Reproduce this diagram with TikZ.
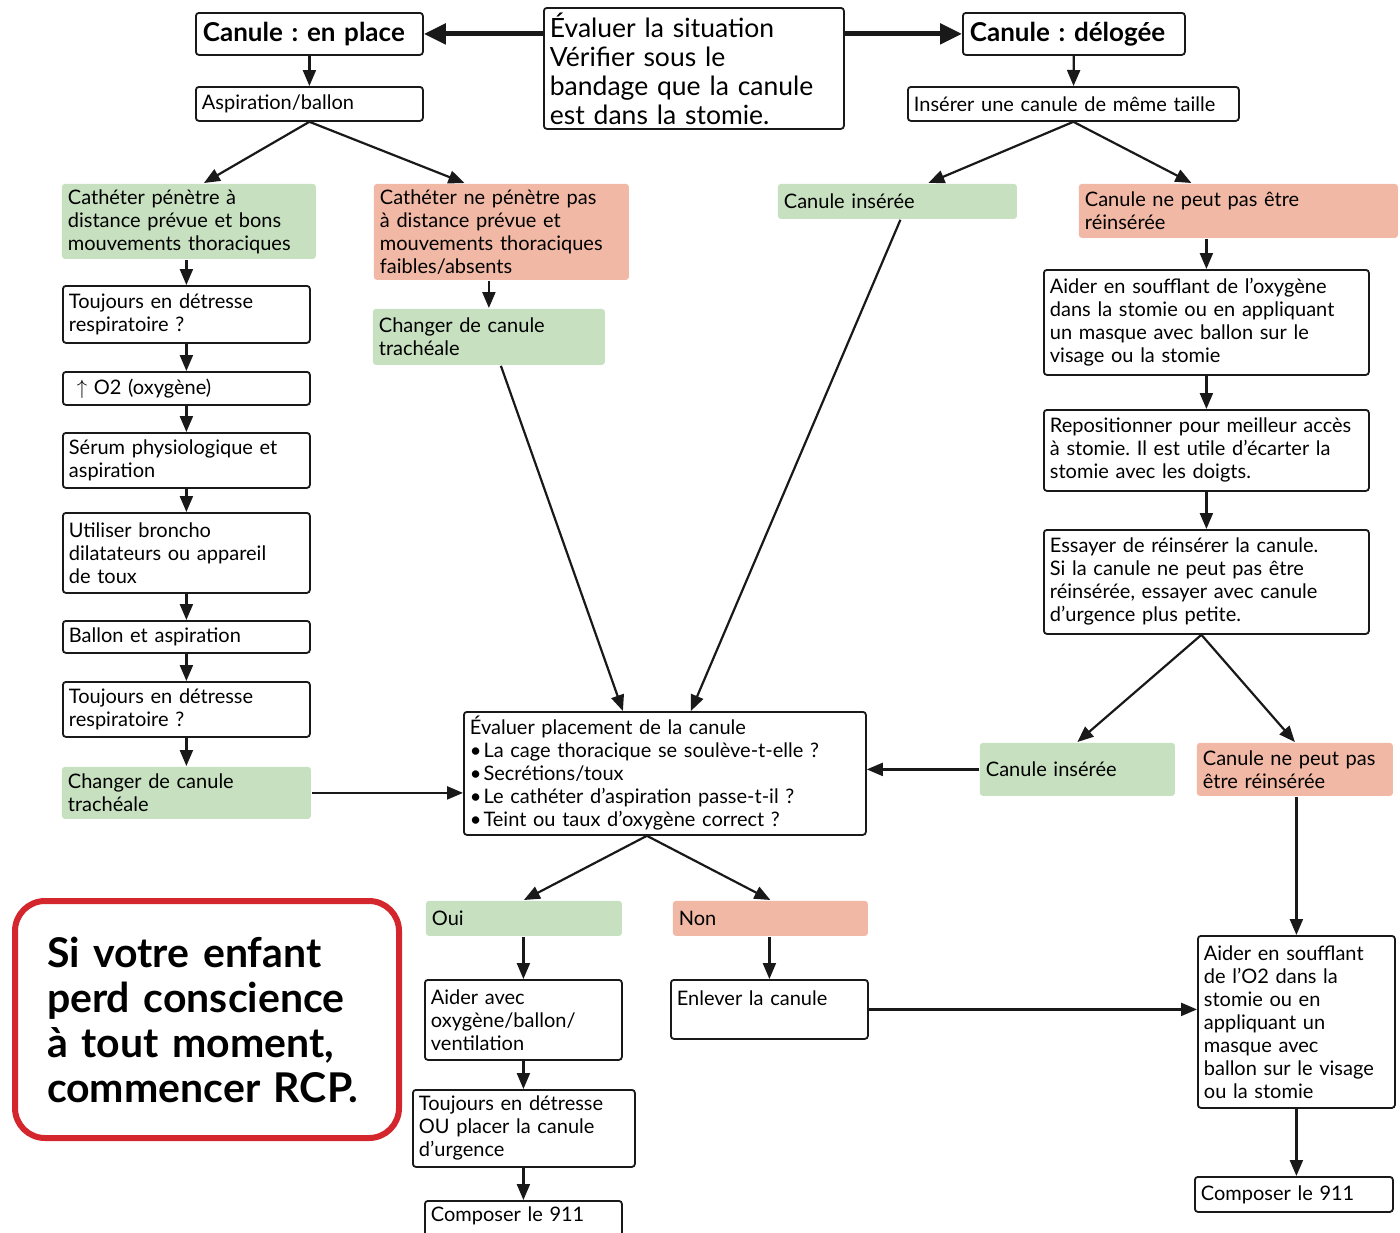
\documentclass[tikz,border=0pt]{standalone}
\usepackage{fontspec}
\setmainfont{Lato}
\frenchspacing
\usetikzlibrary{
	positioning,
	arrows.meta
}
\definecolor{okgreen}{RGB}{198,224,192}
\definecolor{kored}{RGB}{241,185,165}
\definecolor{cprred}{RGB}{212,38,45}
\newcommand{\bodyfont}{\fontsize{20}{23}\selectfont}
\tikzset{
	box/.style={
		draw=black!90, line width=1.8pt, rounded corners=3pt, fill=white,
		anchor=north west, align=left, inner xsep=6pt, inner ysep=2pt,
		font=\bodyfont
	},
	okbox/.style={box, draw=none, fill=okgreen},
	kobox/.style={box, draw=none, fill=kored},
	titlebox/.style={box, inner xsep=7pt, font=\fontsize{26}{30}\selectfont\bfseries},
	every edge/.append style={
		draw=black!90, line width=2.2pt,
		-{Triangle[length=16pt,width=13pt]}
	},
	bigarrow/.style={
		draw=black!90, line width=5pt,
		-{Triangle[length=22pt,width=20pt]}
	}
}

\begin{document}
\begin{tikzpicture}[x=1pt,y=-1pt]
	\useasboundingbox (0,0) rectangle (1400,1232);

	% top row
	\node[box, minimum width=300pt, minimum height=121pt, text width=288pt,
		font=\fontsize{26.5}{29}\selectfont] (eval) at (543,7)
		{Évaluer la situation\\Vérifier sous le\\bandage que la canule\\est dans la stomie.};
	\node[titlebox, minimum width=227pt, minimum height=42pt, text width=213pt] (place) at (195,12) {Canule : en place};
	\node[titlebox, minimum width=222pt, minimum height=42pt, text width=208pt] (deloge) at (962,12) {Canule : délogée};
	\node[box, minimum width=227pt, minimum height=34pt, text width=215pt] (asp) at (195,86) {Aspiration/ballon};
	\node[box, minimum width=331pt, minimum height=34pt, text width=319pt] (inser) at (907,86) {Insérer une canule de même taille};

	% left column
	\node[okbox, minimum width=254pt, minimum height=75pt, text width=242pt] (catok) at (61,183)
		{Cathéter pénètre à\\distance prévue et bons\\mouvements thoraciques};
	\node[kobox, minimum width=255pt, minimum height=96pt, text width=243pt] (catko) at (373,183)
		{Cathéter ne pénètre pas\\à distance prévue et\\mouvements thoraciques\\faibles/absents};
	\node[box, minimum width=247pt, minimum height=57pt, text width=235pt] (det1) at (62,285)
		{Toujours en détresse\\respiratoire~?};
	\node[box, minimum width=247pt, minimum height=33pt, text width=235pt] (o2) at (62,371)
		{\hspace{8pt}$\uparrow$ O2 (oxygène)};
	\node[box, minimum width=247pt, minimum height=55pt, text width=235pt] (serum) at (62,432)
		{Sérum physiologique et\\aspiration};
	\node[box, minimum width=247pt, minimum height=80pt, text width=235pt] (bronch) at (62,512)
		{Utiliser broncho\\dilatateurs ou appareil\\de toux};
	\node[box, minimum width=247pt, minimum height=32pt, text width=235pt] (ballon) at (62,620)
		{Ballon et aspiration};
	\node[box, minimum width=247pt, minimum height=55pt, text width=235pt] (det2) at (62,681)
		{Toujours en détresse\\respiratoire~?};
	\node[okbox, minimum width=249pt, minimum height=52pt, text width=237pt] (chg1) at (61,766)
		{Changer de canule\\trachéale};
	\node[okbox, minimum width=232pt, minimum height=56pt, text width=220pt] (chg2) at (372,308)
		{Changer de canule\\trachéale};

	% right column
	\node[okbox, minimum width=239pt, minimum height=35pt, text width=227pt] (insok1) at (777,183) {Canule insérée};
	\node[kobox, minimum width=319pt, minimum height=54pt, text width=307pt] (insko1) at (1078,183)
		{Canule ne peut pas être\\réinsérée};
	\node[box, minimum width=325pt, minimum height=105pt, text width=313pt] (aide1) at (1043,269)
		{Aider en soufflant de l’oxygène\\dans la stomie ou en appliquant\\un masque avec ballon sur le\\visage ou la stomie};
	\node[box, minimum width=325pt, minimum height=81pt, text width=313pt] (repos) at (1043,409)
		{Repositionner pour meilleur accès\\à stomie. Il est utile d’écarter la\\stomie avec les doigts.};
	\node[box, minimum width=325pt, minimum height=104pt, text width=313pt] (essai) at (1043,529)
		{Essayer de réinsérer la canule.\\Si la canule ne peut pas être\\réinsérée, essayer avec canule\\d’urgence plus petite.};
	\node[okbox, minimum width=195pt, minimum height=53pt, text width=183pt] (insok2) at (979,742) {Canule insérée};
	\node[kobox, minimum width=196pt, minimum height=53pt, text width=184pt] (insko2) at (1196,742)
		{Canule ne peut pas\\être réinsérée};
	\node[box, minimum width=197pt, minimum height=172pt, text width=185pt] (aide2) at (1197,935)
		{Aider en soufflant\\de l’O2 dans la\\stomie ou en\\appliquant un\\masque avec\\ballon sur le visage\\ou la stomie};
	\node[box, minimum width=198pt, minimum height=35pt, text width=186pt] (call2) at (1194,1176) {Composer le 911};

	% middle
	\node[box, minimum width=402pt, minimum height=123pt, text width=390pt] (evalp) at (463,711)
		{Évaluer placement de la canule\\
		 •\kern2pt La cage thoracique se soulève-t-elle~?\\
		 •\kern2pt Secrétions/toux\\
		 •\kern2pt Le cathéter d’aspiration passe-t-il~?\\
		 •\kern2pt Teint ou taux d’oxygène correct~?};
	\node[okbox, minimum width=196pt, minimum height=35pt, text width=184pt] (oui) at (425,900) {Oui};
	\node[kobox, minimum width=195pt, minimum height=35pt, text width=183pt] (non) at (672,900) {Non};
	\node[box, minimum width=197pt, minimum height=80pt, text width=185pt] (aideo) at (424,979)
		{Aider avec\\oxygène/ballon/\\ventilation};
	\node[box, minimum width=222pt, minimum height=77pt, text width=210pt] (toujou) at (412,1089)
		{Toujours en détresse\\OU placer la canule\\d’urgence};
	\node[box, minimum width=197pt, minimum height=50pt, text width=185pt] (call1) at (424,1200)
		{Composer le 911\\\mbox{}};
	\node[box, minimum width=197pt, minimum height=59pt, text width=185pt] (enlev) at (670,979)
		{Enlever la canule\\\mbox{}};

	% warning
	\node[box, draw=cprred, line width=6pt, rounded corners=30pt,
		minimum width=384pt, minimum height=237pt, text width=320pt, inner xsep=32pt,
		font=\fontsize{41}{45}\selectfont\bfseries] (cpr) at (12,898)
		{Si votre enfant\\perd conscience\\à tout moment,\\commencer RCP.};

	% connectors
	\draw[bigarrow] (eval.west |- place.east) -- (place.east);
	\draw[bigarrow] (eval.east |- deloge.west) -- (deloge.west);
	\draw
		(place) edge (asp)
		(deloge) edge (inser)
		(asp.south) edge ([xshift=15pt]catok.north)
		(asp.south) edge ([xshift=-37pt]catko.north)
		(det1.north |- catok.south) edge (det1.north)
		(chg2.north |- catko.south) edge (chg2.north)
		(chg1.east) edge (chg1.east -| evalp.west)
		([xshift=12pt]chg2.south) edge ([xshift=-42pt]evalp.north)
		([xshift=3pt]insok1.south) edge ([xshift=26pt]evalp.north)
		(inser.south) edge ([xshift=31pt]insok1.north)
		(inser.south) edge ([xshift=-47pt]insko1.north)
		(aide1.north |- insko1.south) edge (aide1.north)
		([xshift=-5pt]essai.south) edge (insok2.north)
		([xshift=-5pt]essai.south) edge (insko2.north)
		(insok2.west) edge (insok2.west -| evalp.east)
		(insko2.south -| aide2.north) edge (aide2.north)
		(aide2.south) edge (aide2.south |- call2.north)
		([xshift=-18pt]evalp.south) edge (oui.north)
		([xshift=-18pt]evalp.south) edge (non.north)
		(oui.south -| aideo.north) edge (aideo.north)
		(aideo.south) edge (aideo.south |- toujou.north)
		(toujou.south -| call1.north) edge (call1.north)
		(non.south -| enlev.north) edge (enlev.north)
		(enlev.east) edge (enlev.east -| aide2.west)
	;
	\foreach \a/\b in {det1/o2, o2/serum, serum/bronch, bronch/ballon, ballon/det2, det2/chg1,
		aide1/repos, repos/essai}
		\draw (\a.south) edge (\a.south |- \b.north);
\end{tikzpicture}
\end{document}
